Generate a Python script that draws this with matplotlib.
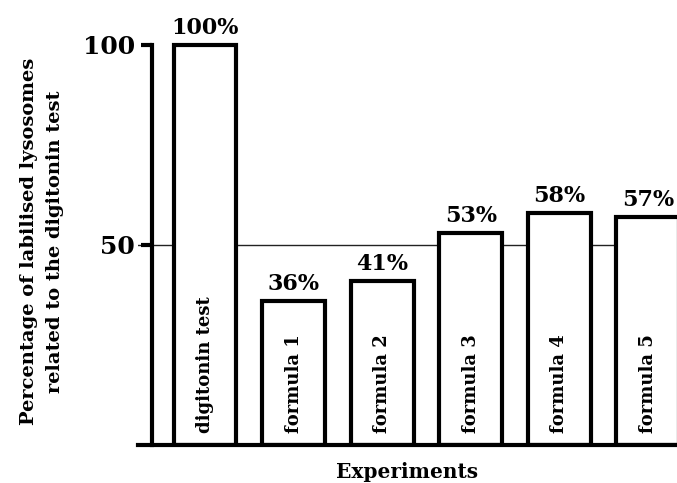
import matplotlib
matplotlib.use("Agg")
import matplotlib.pyplot as plt

# datos
experiments = ['digitonin test', 'formula 1', 'formula 2', 'formula 3', 'formula 4', 'formula 5']
values = [100, 36, 41, 53, 58, 57]
value_labels = ['100%', '36%', '41%', '53%', '58%', '57%']
yticks = [50, 100]

W, H = 677, 483
fig = plt.figure(figsize=(W / 100, H / 100), dpi=100)
ax = fig.add_axes([138 / W, 38 / H, 1 - 138 / W, 445 / H])

serif = 'DejaVu Serif'
x = list(range(len(experiments)))

ax.axhline(50, color='#222222', lw=1.0, zorder=1)
bars = ax.bar(x, values, width=0.71, facecolor='white', edgecolor='black',
              linewidth=3, zorder=2)

for xi, v, lab in zip(x, values, value_labels):
    ax.annotate(lab, (xi, v), xytext=(0, 4), textcoords='offset points',
                ha='center', va='bottom', fontsize=16, fontweight='bold',
                family=serif, zorder=3)

for xi, name in zip(x, experiments):
    ax.text(xi, 3, name, rotation=90, ha='center', va='bottom',
            fontsize=13, fontweight='bold', family=serif, zorder=3)

ax.set_xlim(-0.756, 5.33)
ax.set_ylim(0, 111.25)

for s in ['top', 'right']:
    ax.spines[s].set_visible(False)
ax.spines['left'].set_position(('data', -0.6))
ax.spines['left'].set_bounds(0, 100)
ax.spines['left'].set_linewidth(3)
ax.spines['bottom'].set_linewidth(3)

ax.set_xticks([])
ax.set_yticks(yticks)
ax.set_yticklabels([str(t) for t in yticks], fontsize=18, fontweight='bold', family=serif)
ax.tick_params(axis='y', length=8, width=3, pad=4)

ax.set_xlabel('Experiments', fontsize=14.5, fontweight='bold', family=serif, labelpad=12)
fig.text(42 / W, 0.5, 'Percentage of labilised lysosomes\nrelated to the digitonin test',
         rotation=90, ha='center', va='center', fontsize=14, fontweight='bold',
         family=serif, linespacing=1.55)

fig.savefig('out.png', dpi=100)
